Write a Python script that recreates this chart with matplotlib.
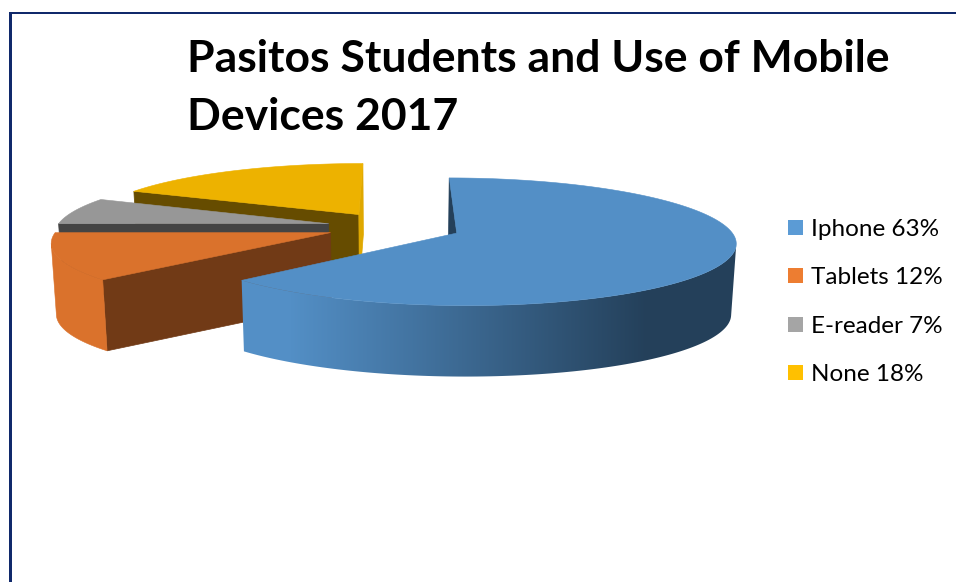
import numpy as np
import matplotlib
matplotlib.use('Agg')
import matplotlib.pyplot as plt
from matplotlib.patches import Polygon, Rectangle
from matplotlib.colors import to_rgb

labels = ['Iphone', 'Tablets', 'E-reader', 'None']
shares = [63, 12, 7, 18]
title_lines = ['Pasitos Students and Use of Mobile', 'Devices 2017']

face_colors = ['#538FC6', '#DA722C', '#979797', '#EDB200']
wall_colors = ['#24405A', '#713A16', '#444444', '#664C00']
end_wall_colors = ['#24405A', '#713A16', '#444444', '#DFA800']
legend_colors = ['#5B9BD5', '#ED7D31', '#A5A5A5', '#FFC000']

# pie projection, in pixels
CX, CY = 394, 227
RX, RY = 272, 61
DEPTH = 71
PERSP = 0.134
EXPLODE = 0.248


def project(X, V, z=0.0):
    s = 1 / (1 - PERSP * np.asarray(V))
    shrink = 1 - 0.015 * z
    return np.column_stack([CX + RX * X * s * shrink, CY + RY * V * s + DEPTH * z])


def facing(X, V, nx, nv):
    # wall is visible when its normal points at the camera
    return -X * nx + (1 / PERSP - V) * nv > 0


fig = plt.figure(figsize=(9.56, 5.82), dpi=100)
ax = fig.add_axes([0, 0, 1, 1])

# frame on the top and left
ax.add_patch(Rectangle((9, 12), 947, 2.4, fc='#10296B', ec='none'))
ax.add_patch(Rectangle((9, 12), 2.8, 570, fc='#10296B', ec='none'))

edges = np.radians(np.cumsum([0] + shares) * 3.6)
order = 2

# back slices first so the front ones cover them
for i in [3, 2, 1, 0]:
    a0, a1 = edges[i], edges[i + 1]
    mid = (a0 + a1) / 2
    ox, ov = EXPLODE * np.sin(mid), -EXPLODE * np.cos(mid)
    ang = np.linspace(a0, a1, 200)
    rim_x = ox + np.sin(ang)
    rim_v = ov - np.cos(ang)

    # cut faces
    cuts = [(a0, a0 - np.pi / 2, wall_colors[i]), (a1, a1 + np.pi / 2, end_wall_colors[i])]
    for a, n, col in cuts:
        if facing(ox, ov, np.sin(n), -np.cos(n)):
            ex, ev = np.array([ox, ox + np.sin(a)]), np.array([ov, ov - np.cos(a)])
            pts = np.vstack([project(ex, ev), project(ex, ev, 1)[::-1]])
            ax.add_patch(Polygon(pts, fc=col, ec=col, lw=0.5, zorder=order))
            order += 1

    # outer rim
    vis = facing(rim_x, rim_v, np.sin(ang), -np.cos(ang))
    if vis.any():
        pts = np.vstack([project(rim_x[vis], rim_v[vis]), project(rim_x[vis], rim_v[vis], 1)[::-1]])
        if i == 0:
            # blue rim darkens towards the right
            t = np.clip((np.arange(230, 760) - 290) / 357, 0, 1)[None, :, None]
            grad = np.array(to_rgb(face_colors[0])) * (1 - t) + np.array(to_rgb(wall_colors[0])) * t
            rim = Polygon(pts, fc='none', ec='none', transform=ax.transData)
            ax.add_patch(rim)
            im = ax.imshow(grad, extent=(230, 760, 400, 200), aspect='auto', zorder=order)
            im.set_clip_path(rim)
        else:
            ax.add_patch(Polygon(pts, fc=face_colors[i], ec=face_colors[i], lw=0.4, zorder=order))
        order += 1

    # top face
    top = project(np.r_[ox, rim_x], np.r_[ov, rim_v])
    ax.add_patch(Polygon(top, fc=face_colors[i], ec=face_colors[i], lw=0.4, zorder=order))
    order += 1

for k, line in enumerate(title_lines):
    ax.text(187.5, 72 + 58 * k, line, fontsize=32, fontweight='bold', family='Lato',
            color='black', va='baseline', ha='left', zorder=order)

for k, (name, val) in enumerate(zip(labels, shares)):
    y = 220 + 48.3 * k
    ax.add_patch(Rectangle((788, y), 15, 15, fc=legend_colors[k], ec='none', zorder=order))
    ax.text(811, y + 16, f'{name} {val}%', fontsize=17.5, family='Lato', color='black',
            va='baseline', ha='left', zorder=order)

ax.set_xlim(0, 956)
ax.set_ylim(582, 0)
ax.axis('off')

fig.savefig('out.png', dpi=100)
